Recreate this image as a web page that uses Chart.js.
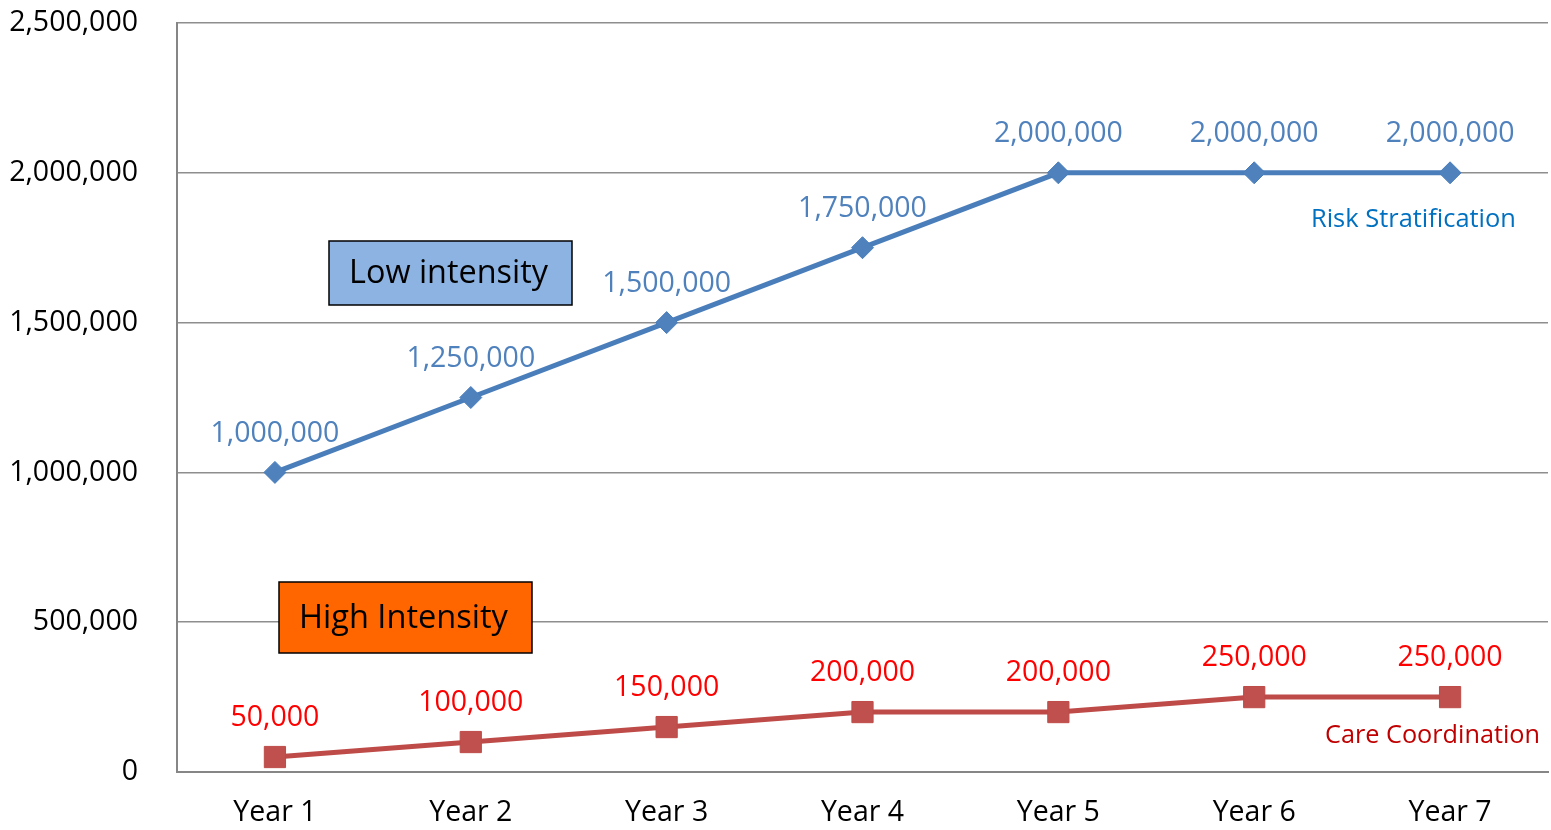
<!DOCTYPE html>
<html>
<head>
<meta charset="utf-8">
<script src="https://cdn.jsdelivr.net/npm/chart.js@4/dist/chart.umd.min.js"></script>
<style>
  html, body { margin: 0; padding: 0; background: #fff; }
  #wrap { width: 1551px; height: 830px; position: relative; }
</style>
</head>
<body>
<div id="wrap"><canvas id="c" width="1551" height="830"></canvas></div>
<script>
const categories = ['Year 1', 'Year 2', 'Year 3', 'Year 4', 'Year 5', 'Year 6', 'Year 7'];
const riskStratification = [1000000, 1250000, 1500000, 1750000, 2000000, 2000000, 2000000];
const careCoordination = [50000, 100000, 150000, 200000, 200000, 250000, 250000];
const yTicks = [0, 500000, 1000000, 1500000, 2000000, 2500000];
const seriesNames = ['Risk Stratification', 'Care Coordination'];
const boxLabels = ['Low intensity', 'High Intensity'];

const FONT = "'Open Sans', 'Liberation Sans', sans-serif";
const fmt = v => v.toLocaleString('en-US');

function fitFont(ctx, text, targetW, base) {
  ctx.font = base + 'px ' + FONT;
  const w = ctx.measureText(text).width;
  return base * targetW / w;
}

const annotationPlugin = {
  id: 'annots',
  afterDatasetsDraw(chart) {
    const ctx = chart.ctx;
    ctx.save();
    const labelColors = ['#4F81BD', '#FF0000'];
    chart.data.datasets.forEach((ds, di) => {
      const meta = chart.getDatasetMeta(di);
      ctx.fillStyle = labelColors[di];
      ctx.font = '28.5px ' + FONT;
      ctx.textAlign = 'center';
      ctx.textBaseline = 'middle';
      meta.data.forEach((pt, i) => {
        ctx.fillText(fmt(ds.data[i]), pt.x, pt.y - 39);
      });
    });

    const sLabels = [
      { text: seriesNames[0], color: '#0070C0', x0: 1311, w: 205, yc: 219 },
      { text: seriesNames[1], color: '#C00000', x0: 1325, w: 215, yc: 735 }
    ];
    sLabels.forEach(l => {
      const size = fitFont(ctx, l.text, l.w, 24);
      ctx.font = size + 'px ' + FONT;
      ctx.fillStyle = l.color;
      ctx.textAlign = 'left';
      ctx.textBaseline = 'middle';
      ctx.fillText(l.text, l.x0, l.yc + 1);
    });

    const boxes = [
      { text: boxLabels[0], fill: '#8DB3E2', x: 329, y: 241, w: 243, h: 64, tx: 349, tw: 199 },
      { text: boxLabels[1], fill: '#FF6600', x: 279, y: 582, w: 253, h: 71, tx: 299, tw: 209 }
    ];
    boxes.forEach(b => {
      ctx.fillStyle = b.fill;
      ctx.fillRect(b.x, b.y, b.w, b.h);
      ctx.lineWidth = 1.5;
      ctx.strokeStyle = '#000';
      ctx.strokeRect(b.x, b.y, b.w, b.h);
      const size = fitFont(ctx, b.text, b.tw, 30);
      ctx.font = size + 'px ' + FONT;
      ctx.fillStyle = '#000';
      ctx.textAlign = 'left';
      ctx.textBaseline = 'middle';
      ctx.fillText(b.text, b.tx, b.y + b.h / 2 + 1);
    });
    ctx.restore();
  }
};

new Chart(document.getElementById('c'), {
  type: 'line',
  data: {
    labels: categories,
    datasets: [
      {
        label: seriesNames[0],
        data: riskStratification,
        borderColor: '#4A7EBB',
        backgroundColor: '#4A7EBB',
        borderWidth: 5,
        pointStyle: 'rectRot',
        pointRadius: 11,
        pointBorderWidth: 1,
        pointBackgroundColor: '#4F81BD',
        pointBorderColor: '#4A7EBB',
        tension: 0
      },
      {
        label: seriesNames[1],
        data: careCoordination,
        borderColor: '#BE4B48',
        backgroundColor: '#BE4B48',
        borderWidth: 5,
        pointStyle: 'rect',
        pointRadius: 15,
        pointBorderWidth: 1,
        pointBackgroundColor: '#C0504D',
        pointBorderColor: '#BE4B48',
        tension: 0
      }
    ]
  },
  options: {
    responsive: false,
    animation: false,
    layout: { autoPadding: false, padding: { top: 23, right: 3, left: 0, bottom: 0 } },
    plugins: { legend: { display: false }, tooltip: { enabled: false } },
    scales: {
      x: {
        offset: true,
        grid: { display: false, drawTicks: false },
        border: { display: true, color: '#868686', width: 2 },
        ticks: { color: '#000', font: { family: FONT, size: 28.5 }, padding: 24 },
        afterFit(scale) { scale.height = 58; scale.paddingLeft = 0; scale.paddingRight = 0; }
      },
      y: {
        min: 0,
        max: 2500000,
        afterBuildTicks(scale) { scale.ticks = yTicks.map(v => ({ value: v })); },
        grid: { color: '#8E8E8E', lineWidth: 1.5, drawTicks: false },
        border: { display: true, color: '#868686', width: 2 },
        ticks: {
          color: '#000',
          font: { family: FONT, size: 28.5 },
          padding: 39,
          callback: v => fmt(v)
        },
        afterFit(scale) { scale.width = 177; scale.paddingTop = 0; scale.paddingBottom = 0; }
      }
    }
  },
  plugins: [annotationPlugin]
});
</script>
</body>
</html>
